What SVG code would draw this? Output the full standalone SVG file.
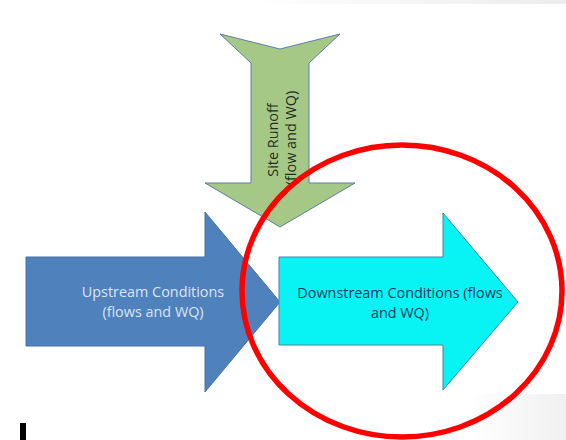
<svg xmlns="http://www.w3.org/2000/svg" width="566" height="440" viewBox="0 0 566 440">
<defs>
<linearGradient id="topg" x1="0" y1="0" x2="1" y2="0">
<stop offset="0" stop-color="#ffffff"/>
<stop offset="1" stop-color="#ececec"/>
</linearGradient>
<linearGradient id="botg" x1="0" y1="0" x2="1" y2="0">
<stop offset="0" stop-color="#ffffff"/>
<stop offset="1" stop-color="#f0f0f0"/>
</linearGradient>
</defs>
<style>
.shape{stroke-width:1;stroke-linejoin:miter}
.lbl{font-family:"Open Sans","Liberation Sans",sans-serif;font-size:14.4px;text-anchor:middle}
</style>
<rect x="0" y="0" width="566" height="440" fill="#ffffff"/>
<rect x="250" y="0" width="316" height="4" fill="url(#topg)"/>
<rect x="470" y="394" width="96" height="46" fill="url(#botg)"/>
<rect x="20" y="423" width="6" height="17" fill="#000000"/>
<g id="connectors"></g>
<g id="upstream">
<polygon class="shape" points="26,257 205,257 205,212 280,302 205,392 205,346 26,346" fill="#4f81bd" stroke="#4572a7"/>
<text class="lbl" fill="#dbe5f1" x="153" y="297">Upstream Conditions</text>
<text class="lbl" fill="#dbe5f1" x="153" y="317">(flows and WQ)</text>
</g>
<g id="downstream">
<polygon class="shape" points="279,257 443,257 443,213 518,302 443,390 443,345 279,345" fill="#08f4f4" stroke="#3f86a5"/>
<text class="lbl" fill="#17365d" x="400" y="298">Downstream Conditions (flows</text>
<text class="lbl" fill="#17365d" x="400" y="318">and WQ)</text>
</g>
<g id="site-runoff">
<polygon class="shape" points="220,34 280,49 340,34 309,63 309,183 355,183 280,227 205,183 251,183 251,63" fill="#a6c886" stroke="#5d7fa0"/>
<text class="lbl" fill="#1f2e1f" transform="translate(278,140) rotate(-90)" x="0" y="0">Site Runoff</text>
<text class="lbl" fill="#1f2e1f" transform="translate(296,138) rotate(-90)" x="0" y="0">(flow and WQ)</text>
</g>
<g id="highlight">
<ellipse cx="402" cy="291" rx="160" ry="146" fill="none" stroke="#ff0000" stroke-width="5.5"/>
</g>
</svg>
